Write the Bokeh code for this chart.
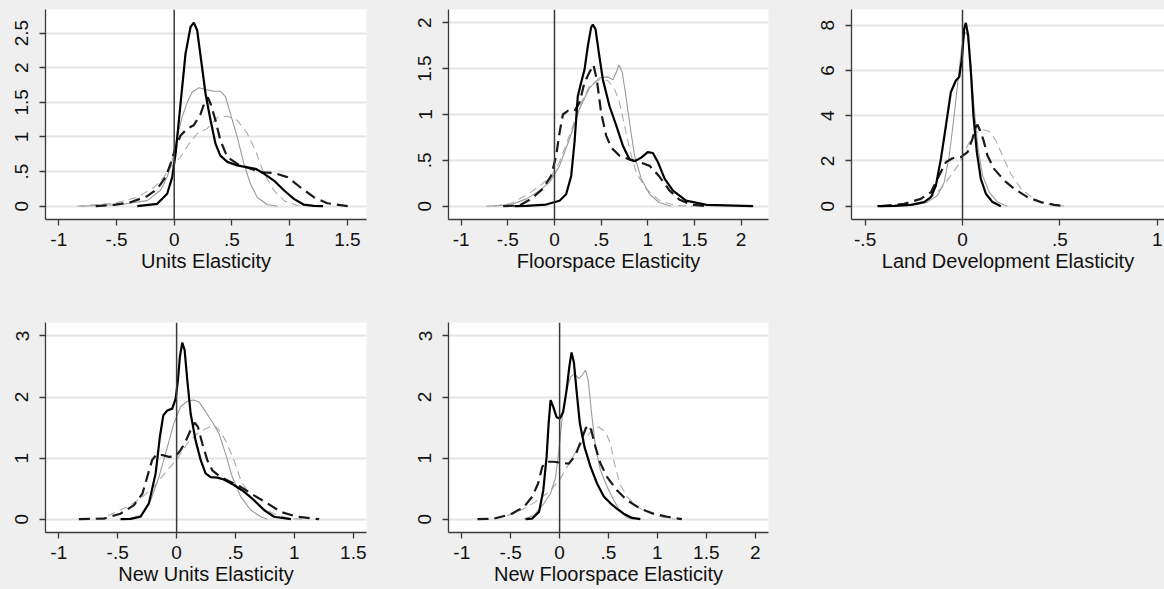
from bokeh.plotting import figure
from bokeh.layouts import column, row
from bokeh.models import FixedTicker, Span, Spacer, Range1d, CustomJS
from bokeh.document import Document
from bokeh.embed import file_html
from bokeh.resources import INLINE

BG = "#efefef"
FONT = "Liberation Sans"

# ---------------- data ----------------
# Panel 1: Units Elasticity
p1_bs_x = [-0.32, -0.147, -0.061, -0.017, 0.012, 0.055, 0.098, 0.142, 0.17, 0.199, 0.234, 0.272, 0.315, 0.358, 0.40, 0.46, 0.546, 0.633, 0.705, 0.777, 0.864, 0.95, 1.037, 1.12, 1.21, 1.29]
p1_bs_y = [0, 0.034, 0.18, 0.42, 0.76, 1.48, 2.2, 2.59, 2.65, 2.54, 2.10, 1.62, 1.24, 0.90, 0.73, 0.64, 0.59, 0.56, 0.54, 0.47, 0.37, 0.23, 0.106, 0.024, 0.005, 0]
p1_bd_x = [-0.68, -0.52, -0.378, -0.234, -0.147, -0.075, -0.032, 0.012, 0.055, 0.113, 0.17, 0.228, 0.27, 0.292, 0.315, 0.358, 0.40, 0.46, 0.546, 0.633, 0.748, 0.864, 0.98, 1.095, 1.21, 1.326, 1.51]
p1_bd_y = [0, 0.02, 0.058, 0.144, 0.25, 0.42, 0.61, 0.85, 1.02, 1.12, 1.17, 1.33, 1.53, 1.57, 1.48, 1.24, 0.95, 0.71, 0.61, 0.56, 0.49, 0.48, 0.42, 0.27, 0.13, 0.043, 0.0]
p1_gs_x = [-0.81, -0.465, -0.234, -0.118, -0.061, -0.017, 0.026, 0.069, 0.113, 0.156, 0.214, 0.286, 0.344, 0.40, 0.445, 0.488, 0.546, 0.604, 0.661, 0.719, 0.806, 0.893]
p1_gs_y = [0, 0.024, 0.08, 0.23, 0.42, 0.66, 1.0, 1.29, 1.50, 1.65, 1.71, 1.68, 1.66, 1.66, 1.58, 1.33, 1.0, 0.61, 0.32, 0.13, 0.024, 0]
p1_gd_x = [-0.84, -0.52, -0.32, -0.176, -0.09, -0.032, 0.055, 0.127, 0.2, 0.286, 0.373, 0.46, 0.546, 0.633, 0.705, 0.777, 0.864, 0.95, 1.066, 1.12]
p1_gd_y = [0, 0.043, 0.13, 0.27, 0.42, 0.56, 0.71, 0.90, 1.05, 1.12, 1.28, 1.30, 1.24, 1.05, 0.80, 0.47, 0.23, 0.08, 0.01, 0]

# Panel 2: Floorspace Elasticity
p2_bs_x = [-0.43, -0.30, -0.09, 0.054, 0.125, 0.179, 0.215, 0.25, 0.286, 0.322, 0.358, 0.393, 0.411, 0.44, 0.476, 0.519, 0.59, 0.662, 0.733, 0.805, 0.858, 0.93, 1.0, 1.055, 1.109, 1.18, 1.27, 1.41, 1.63, 2.13]
p2_bs_y = [0, 0.003, 0.018, 0.06, 0.13, 0.33, 0.70, 1.20, 1.35, 1.49, 1.75, 1.95, 1.98, 1.93, 1.67, 1.38, 1.09, 0.88, 0.66, 0.51, 0.49, 0.53, 0.59, 0.58, 0.48, 0.30, 0.17, 0.06, 0.014, 0]
p2_bd_x = [-0.55, -0.375, -0.25, -0.125, -0.036, 0.018, 0.054, 0.09, 0.143, 0.215, 0.268, 0.322, 0.375, 0.418, 0.454, 0.50, 0.554, 0.608, 0.697, 0.805, 0.912, 1.02, 1.127, 1.234, 1.34, 1.48, 1.63]
p2_bd_y = [0, 0.007, 0.08, 0.19, 0.33, 0.55, 0.80, 1.0, 1.04, 1.04, 1.13, 1.35, 1.46, 1.54, 1.38, 1.02, 0.77, 0.64, 0.55, 0.51, 0.48, 0.44, 0.32, 0.17, 0.07, 0.014, 0]
p2_gs_x = [-0.73, -0.48, -0.30, -0.16, -0.054, 0.054, 0.16, 0.268, 0.375, 0.483, 0.572, 0.626, 0.662, 0.69, 0.726, 0.76, 0.805, 0.858, 0.93, 1.02, 1.12, 1.25]
p2_gs_y = [0, 0.014, 0.08, 0.17, 0.26, 0.44, 0.73, 1.06, 1.29, 1.40, 1.41, 1.38, 1.46, 1.54, 1.46, 1.24, 0.91, 0.55, 0.30, 0.13, 0.04, 0]
p2_gd_x = [-0.65, -0.48, -0.30, -0.16, -0.036, 0.054, 0.16, 0.268, 0.375, 0.483, 0.572, 0.644, 0.697, 0.751, 0.805, 0.876, 0.98, 1.127, 1.305, 1.48]
p2_gd_y = [0, 0.025, 0.12, 0.22, 0.33, 0.48, 0.77, 1.09, 1.31, 1.38, 1.37, 1.28, 1.13, 0.88, 0.62, 0.37, 0.19, 0.06, 0.007, 0]

# Panel 3: Land Development Elasticity
p3_bs_x = [-0.436, -0.35, -0.265, -0.197, -0.162, -0.137, -0.111, -0.085, -0.06, -0.034, -0.017, -0.003, 0.0085, 0.017, 0.029, 0.043, 0.056, 0.0735, 0.094, 0.12, 0.154, 0.197]
p3_bs_y = [0, 0.015, 0.06, 0.18, 0.40, 0.91, 2.09, 3.57, 5.04, 5.56, 5.71, 6.52, 7.85, 8.11, 7.55, 5.93, 4.01, 2.39, 1.21, 0.55, 0.18, 0.0]
p3_bd_x = [-0.42, -0.30, -0.214, -0.162, -0.12, -0.085, -0.051, -0.0085, 0.026, 0.051, 0.068, 0.077, 0.09, 0.108, 0.128, 0.162, 0.214, 0.265, 0.333, 0.40, 0.47, 0.53]
p3_bd_y = [0, 0.10, 0.32, 0.62, 1.36, 1.95, 2.12, 2.17, 2.39, 2.98, 3.50, 3.60, 3.35, 2.91, 2.24, 1.65, 1.14, 0.77, 0.40, 0.18, 0.06, 0]
p3_gs_x = [-0.42, -0.265, -0.18, -0.128, -0.094, -0.068, -0.043, -0.022, -0.005, 0.012, 0.026, 0.043, 0.06, 0.08, 0.103, 0.137, 0.18, 0.23]
p3_gs_y = [0, 0.03, 0.18, 0.47, 1.06, 2.24, 4.01, 5.63, 6.96, 7.70, 7.55, 6.22, 4.31, 2.54, 1.36, 0.62, 0.18, 0]
p3_gd_x = [-0.44, -0.265, -0.18, -0.111, -0.06, -0.017, 0.017, 0.06, 0.103, 0.137, 0.171, 0.205, 0.248, 0.30, 0.368, 0.436, 0.52]
p3_gd_y = [0, 0.06, 0.25, 0.77, 1.36, 1.87, 2.54, 3.20, 3.39, 3.30, 2.91, 2.24, 1.43, 0.77, 0.32, 0.10, 0]

# Panel 4: New Units Elasticity
p4_bs_x = [-0.476, -0.39, -0.306, -0.235, -0.178, -0.142, -0.113, -0.079, -0.037, -0.0085, 0.011, 0.028, 0.048, 0.068, 0.091, 0.119, 0.161, 0.204, 0.246, 0.289, 0.346, 0.40, 0.487, 0.572, 0.657, 0.742, 0.827, 0.97]
p4_bs_y = [0, 0.005, 0.04, 0.26, 0.75, 1.35, 1.70, 1.78, 1.81, 1.97, 2.27, 2.66, 2.89, 2.77, 2.27, 1.73, 1.29, 0.97, 0.75, 0.69, 0.68, 0.65, 0.56, 0.45, 0.31, 0.15, 0.04, 0]
p4_bd_x = [-0.83, -0.617, -0.476, -0.362, -0.29, -0.25, -0.207, -0.17, -0.122, -0.065, -0.0085, 0.034, 0.076, 0.119, 0.153, 0.181, 0.218, 0.26, 0.303, 0.374, 0.459, 0.544, 0.657, 0.77, 0.884, 1.025, 1.21]
p4_bd_y = [0, 0.01, 0.09, 0.23, 0.42, 0.69, 0.97, 1.06, 1.05, 1.02, 1.03, 1.13, 1.27, 1.46, 1.58, 1.51, 1.24, 0.97, 0.80, 0.69, 0.61, 0.53, 0.39, 0.26, 0.12, 0.04, 0]
p4_gs_x = [-0.42, -0.306, -0.22, -0.15, -0.079, -0.023, 0.034, 0.091, 0.147, 0.19, 0.246, 0.303, 0.36, 0.416, 0.473, 0.544, 0.629, 0.714, 0.77]
p4_gs_y = [0, 0.065, 0.31, 0.69, 1.18, 1.57, 1.84, 1.93, 1.95, 1.92, 1.76, 1.59, 1.40, 1.07, 0.69, 0.37, 0.15, 0.04, 0]
p4_gd_x = [-0.80, -0.617, -0.42, -0.306, -0.193, -0.079, 0.0057, 0.091, 0.176, 0.246, 0.317, 0.36, 0.416, 0.487, 0.544, 0.629, 0.742, 0.855, 0.969, 1.08]
p4_gd_y = [0, 0.027, 0.20, 0.34, 0.53, 0.80, 0.99, 1.24, 1.40, 1.48, 1.54, 1.46, 1.29, 0.97, 0.64, 0.37, 0.17, 0.065, 0.01, 0]

# Panel 5: New Floorspace Elasticity
p5_bs_x = [-0.347, -0.28, -0.21, -0.167, -0.133, -0.112, -0.092, -0.065, -0.031, 0.003, 0.037, 0.071, 0.099, 0.122, 0.146, 0.173, 0.207, 0.255, 0.316, 0.384, 0.452, 0.52, 0.588, 0.656, 0.741, 0.826]
p5_bs_y = [0, 0.01, 0.12, 0.47, 1.02, 1.57, 1.95, 1.84, 1.67, 1.65, 1.76, 2.11, 2.49, 2.73, 2.57, 2.11, 1.57, 1.18, 0.86, 0.58, 0.37, 0.26, 0.17, 0.09, 0.02, 0]
p5_bd_x = [-0.84, -0.67, -0.5, -0.364, -0.279, -0.221, -0.177, -0.133, -0.058, 0.027, 0.095, 0.163, 0.221, 0.265, 0.293, 0.323, 0.367, 0.418, 0.486, 0.588, 0.69, 0.827, 0.963, 1.10, 1.25]
p5_bd_y = [0, 0.01, 0.08, 0.20, 0.37, 0.58, 0.86, 0.94, 0.94, 0.92, 0.91, 1.05, 1.29, 1.48, 1.54, 1.46, 1.18, 0.91, 0.69, 0.47, 0.31, 0.17, 0.09, 0.04, 0]
p5_gs_x = [-0.364, -0.26, -0.16, -0.092, -0.041, -0.0068, 0.027, 0.071, 0.112, 0.153, 0.197, 0.231, 0.265, 0.293, 0.327, 0.367, 0.418, 0.486, 0.554, 0.622, 0.69, 0.76]
p5_gs_y = [0, 0.065, 0.26, 0.42, 0.69, 1.13, 1.67, 2.11, 2.33, 2.38, 2.30, 2.36, 2.44, 2.27, 1.73, 1.18, 0.80, 0.53, 0.31, 0.12, 0.027, 0]
p5_gd_x = [-0.80, -0.67, -0.466, -0.33, -0.194, -0.092, 0.01, 0.078, 0.163, 0.248, 0.333, 0.40, 0.469, 0.52, 0.561, 0.616, 0.69, 0.793, 0.929, 1.065, 1.18]
p5_gd_y = [0, 0.01, 0.09, 0.20, 0.34, 0.47, 0.67, 0.86, 1.10, 1.29, 1.46, 1.51, 1.43, 1.24, 0.91, 0.58, 0.37, 0.20, 0.09, 0.027, 0]

titles = ["Units Elasticity", "Floorspace Elasticity", "Land Development Elasticity",
          "New Units Elasticity", "New Floorspace Elasticity"]
xticks_1 = [-1, -0.5, 0, 0.5, 1, 1.5]
xticks_2 = [-1, -0.5, 0, 0.5, 1, 1.5, 2]
xticks_3 = [-0.5, 0, 0.5, 1]
yticks_1 = [0, 0.5, 1, 1.5, 2, 2.5]
yticks_2 = [0, 0.5, 1, 1.5, 2]
yticks_3 = [0, 2, 4, 6, 8]
yticks_45 = [0, 1, 2, 3]


def lab(v):
    s = ("%g" % v)
    if s.startswith("0.") and len(s) > 2:
        s = s[1:]
    if s.startswith("-0."):
        s = "-" + s[2:]
    return s


def panel(title, xr, yr, xt, yt, curves, mbl, fw, mbr, mbt, fh, mbb):
    p = figure(frame_width=fw, frame_height=fh, min_border_left=mbl, min_border_right=mbr,
               min_border_top=mbt, min_border_bottom=mbb,
               x_range=Range1d(*xr), y_range=Range1d(*yr),
               output_backend="svg", toolbar_location=None, tools="")
    p.background_fill_color = "white"
    p.border_fill_color = BG
    p.outline_line_color = None
    p.xgrid.visible = False
    p.ygrid.grid_line_color = "#e4e4e4"
    p.ygrid.grid_line_width = 2
    p.xaxis.ticker = FixedTicker(ticks=xt)
    p.yaxis.ticker = FixedTicker(ticks=yt)
    p.xaxis.major_label_overrides = {t: lab(t) for t in xt}
    p.yaxis.major_label_overrides = {t: lab(t) for t in yt}
    for ax in (p.xaxis, p.yaxis):
        ax.axis_line_color = "#3a3a3a"
        ax.axis_line_width = 1.3
        ax.major_tick_line_color = "#3a3a3a"
        ax.major_tick_line_width = 1.3
        ax.major_tick_out = 6
        ax.major_tick_in = 0
        ax.minor_tick_line_color = None
        ax.major_label_text_font = FONT
        ax.major_label_text_font_size = "19px"
        ax.major_label_text_color = "#111111"
    p.yaxis.major_label_orientation = "vertical"
    p.yaxis.major_label_standoff = 11
    p.xaxis.major_label_standoff = 7
    p.xaxis.axis_label = title
    p.xaxis.axis_label_text_font = FONT
    p.xaxis.axis_label_text_font_size = "20px"
    p.xaxis.axis_label_text_font_style = "normal"
    p.xaxis.axis_label_text_color = "#111111"
    p.xaxis.axis_label_standoff = 1

    (gdx, gdy), (gsx, gsy), (bdx, bdy), (bsx, bsy) = curves
    p.line(gdx, gdy, line_color="#ababab", line_width=1.1, line_dash="8 5")
    p.line(gsx, gsy, line_color="#9a9a9a", line_width=1.1)
    p.add_layout(Span(location=0, dimension="height", line_color="#3a3a3a", line_width=1.5))
    p.line(bdx, bdy, line_color="#1a1a1a", line_width=2.2, line_dash="11 6")
    p.line(bsx, bsy, line_color="black", line_width=2.2)
    return p


f1 = panel(titles[0], (-1.115, 1.666), (-0.192, 2.84), xticks_1, yticks_1,
           [(p1_gd_x, p1_gd_y), (p1_gs_x, p1_gs_y), (p1_bd_x, p1_bd_y), (p1_bs_x, p1_bs_y)],
           45, 321, 38, 9, 210, 103)
f2 = panel(titles[1], (-1.136, 2.294), (-0.145, 2.145), xticks_2, yticks_2,
           [(p2_gd_x, p2_gd_y), (p2_gs_x, p2_gs_y), (p2_bd_x, p2_bd_y), (p2_bs_x, p2_bs_y)],
           44, 320, 38, 9, 210, 103)
f3 = panel(titles[2], (-0.570, 1.037), (-0.59, 8.70), xticks_3, yticks_3,
           [(p3_gd_x, p3_gd_y), (p3_gs_x, p3_gs_y), (p3_bd_x, p3_bd_y), (p3_bs_x, p3_bs_y)],
           45, 313, 0, 9, 210, 103)
f4 = panel(titles[3], (-1.113, 1.612), (-0.218, 3.22), xticks_1, yticks_45,
           [(p4_gd_x, p4_gd_y), (p4_gs_x, p4_gs_y), (p4_bd_x, p4_bd_y), (p4_bs_x, p4_bs_y)],
           45, 321, 38, 0, 210, 56)
f5 = panel(titles[4], (-1.136, 2.136), (-0.218, 3.22), xticks_2, yticks_45,
           [(p5_gd_x, p5_gd_y), (p5_gs_x, p5_gs_y), (p5_bd_x, p5_bd_y), (p5_bs_x, p5_bs_y)],
           44, 320, 38, 0, 210, 56)
sp = Spacer(width=358, height=266, styles={"background-color": BG})

p = column(row(f1, f2, f3), row(f4, f5, sp), styles={"background-color": BG})

doc = Document()
doc.add_root(p)
doc.js_on_event("document_ready", CustomJS(code="document.body.style.backgroundColor='%s';" % BG))

open("out.html", "w").write(file_html(p, INLINE))
